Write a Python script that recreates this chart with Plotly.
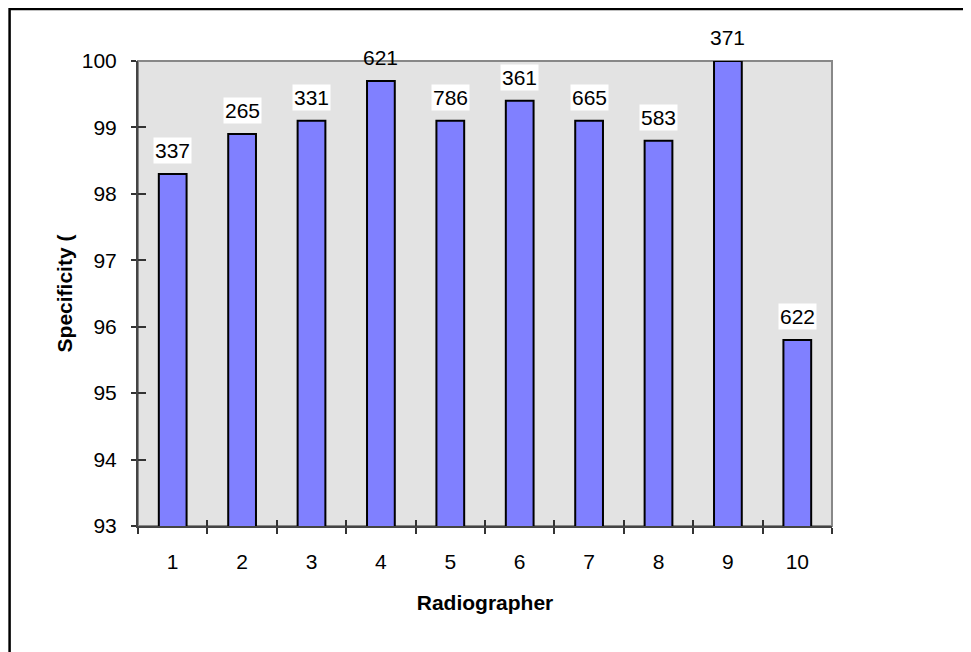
import plotly.graph_objects as go

categories = ["1", "2", "3", "4", "5", "6", "7", "8", "9", "10"]
specificity = [98.3, 98.9, 99.1, 99.7, 99.1, 99.4, 99.1, 98.8, 100.0, 95.8]
counts = ["337", "265", "331", "621", "786", "361", "665", "583", "371", "622"]
y_ticks = [93, 94, 95, 96, 97, 98, 99, 100]

FONT = "Liberation Sans, Arial, sans-serif"
FS = 21

fig = go.Figure()
fig.add_trace(go.Bar(
    x=categories, y=specificity, width=0.4,
    marker=dict(color="#8080FF", line=dict(color="#000000", width=2)),
    hoverinfo="skip", showlegend=False,
))
# invisible twin trace so the overlay axes (inside ticks) are drawn
fig.add_trace(go.Bar(
    x=categories, y=specificity, width=0.4, xaxis="x2", yaxis="y2",
    marker=dict(color="rgba(0,0,0,0)", line=dict(width=0)),
    hoverinfo="skip", showlegend=False,
))

for i, (v, t) in enumerate(zip(specificity, counts)):
    # a label straddling the plot's top edge has no white box (the border shows through)
    bg = "rgba(0,0,0,0)" if 99.5 < v < 100 else "#FFFFFF"
    fig.add_annotation(
        x=i, y=v, text=t, showarrow=False, yanchor="bottom", yshift=10,
        bgcolor=bg, borderpad=1,
        font=dict(family=FONT, size=FS, color="#000000"),
    )

# plot-area border (gray top/right), drawn beneath bars
fig.add_shape(type="rect", xref="x domain", yref="y domain", x0=0, x1=1, y0=0, y1=1,
              line=dict(color="#888888", width=2), layer="below")
# outer chart border (page has an 8px body margin)
W, H = 971, 652
L, T = 129.5, 53
R, B = W - 824, H - 518.5
pw, ph = W - L - R, H - T - B
fig.add_shape(type="rect", xref="paper", yref="paper",
              x0=(1 - L) / pw, x1=(990 - L) / pw,
              y0=(H - B - 670) / ph, y1=(H - B - 1) / ph,
              line=dict(color="#000000", width=2.5))

axis_common = dict(showgrid=False, zeroline=False, automargin=False)
fig.update_layout(
    width=W, height=H,
    margin=dict(l=L, r=R, t=T, b=B, pad=0, autoexpand=False),
    paper_bgcolor="#FFFFFF", plot_bgcolor="#E3E3E3",
    font=dict(family=FONT, size=FS, color="#000000"),
    bargap=0.6,
    xaxis=dict(
        type="category", categoryorder="array", categoryarray=categories,
        range=[-0.5, 9.5],
        tickson="boundaries", ticks="outside", ticklen=6, tickwidth=1.5, tickcolor="#333333",
        showline=True, linecolor="#444444", linewidth=2,
        tickfont=dict(family=FONT, size=FS), ticklabelstandoff=16,
        title=dict(text="<b>Radiographer</b>", font=dict(family=FONT, size=FS), standoff=23),
        **axis_common,
    ),
    yaxis=dict(
        range=[93, 100], tickvals=y_ticks, ticks="outside", ticklen=5, tickwidth=1.5,
        tickcolor="#333333", showline=True, linecolor="#444444", linewidth=2,
        tickfont=dict(family=FONT, size=FS), ticklabelstandoff=10,
        title=dict(text="<b>Specificity (</b>", font=dict(family=FONT, size=FS), standoff=3),
        **axis_common,
    ),
    xaxis2=dict(
        type="category", categoryorder="array", categoryarray=categories,
        range=[-0.5, 9.5],
        overlaying="x", matches="x", tickson="boundaries", ticks="inside", ticklen=6,
        tickwidth=1.5, tickcolor="#333333", showticklabels=False, showline=False,
        **axis_common,
    ),
    yaxis2=dict(
        range=[93, 100], tickvals=y_ticks, overlaying="y", side="left",
        ticks="inside", ticklen=8, tickwidth=1.5, tickcolor="#333333",
        showticklabels=False, showline=False, **axis_common,
    ),
)

fig.write_html("out.html")
